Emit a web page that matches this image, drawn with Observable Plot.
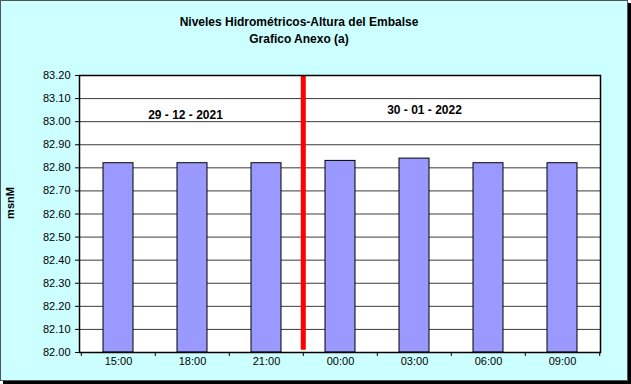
<!DOCTYPE html>
<html>
<head>
<meta charset="utf-8">
<script src="https://cdn.jsdelivr.net/npm/d3@7"></script>
<script src="https://cdn.jsdelivr.net/npm/@observablehq/plot@0.6"></script>
<style>
  html, body { margin: 0; padding: 0; background: #fff; }
  #wrap { position: relative; width: 631px; height: 384px; font-family: "Liberation Sans", Arial, sans-serif; }
  #box { position: absolute; left: 0; top: 0; width: 626px; height: 379px; background: #CCFFFF; border: 1px solid #555; box-shadow: 3px 3px 0 #000; }
  #title { position: absolute; left: 0; top: 14px; width: 598px; text-align: center; font-weight: bold; font-size: 12px; line-height: 17px; color: #000; }
  #ylabel { position: absolute; left: 10px; top: 203px; transform: translate(-50%, -50%) rotate(-90deg); font-weight: bold; font-size: 11px; color: #000; white-space: nowrap; }
  #chart { position: absolute; left: 0; top: 0; }
  #chart svg { background: transparent; }
</style>
</head>
<body>
<div id="wrap">
  <div id="box"></div>
  <div id="title">Niveles Hidrométricos-Altura del Embalse<br>Grafico Anexo (a)</div>
  <div id="chart"></div>
  <div id="ylabel">msnM</div>
</div>
<script>
const times = ["15:00", "18:00", "21:00", "00:00", "03:00", "06:00", "09:00"];
const levels = [82.82, 82.82, 82.82, 82.83, 82.84, 82.82, 82.82];
const yTicks = [82.0, 82.1, 82.2, 82.3, 82.4, 82.5, 82.6, 82.7, 82.8, 82.9, 83.0, 83.1, 83.2];
const dateLabels = ["29 - 12 - 2021", "30 - 01 - 2022"];
const dateAnchors = ["18:00", "03:00"];
const dateLevels = [83.03, 83.05];
const dateShift = [-7, 10];
const splitAt = ["00:00"];

const W = 631, H = 384;
const mL = 79, mR = 31, mT = 75, mB = 32;
const step = (W - mL - mR) / times.length;

const bars = times.map((t, i) => ({time: t, level: levels[i]}));
const dates = dateLabels.map((d, i) => ({label: d, time: dateAnchors[i], level: dateLevels[i]}));

const chart = Plot.plot({
  width: W, height: H,
  marginLeft: mL, marginRight: mR, marginTop: mT, marginBottom: mB,
  style: {background: "transparent", fontFamily: "Liberation Sans, Arial, sans-serif", fontSize: "11px", color: "#000"},
  x: {type: "band", domain: times, paddingInner: 0.6, paddingOuter: 0.3, label: null},
  y: {domain: [82, 83.2], label: null},
  marks: [
    Plot.frame({fill: "#FFFFFF", stroke: null}),
    Plot.ruleY(yTicks, {y: d => d, stroke: "#3a3a3a", strokeWidth: 1}),
    Plot.barY(bars, {x: "time", y1: 82, y2: "level", fill: "#9999FF", stroke: "#000", strokeWidth: 1}),
    Plot.ruleX(splitAt, {x: d => d, dx: -step / 2, y1: 82.01, y2: 83.2, stroke: "#FF0000", strokeWidth: 5}),
    Plot.frame({stroke: "#000", strokeWidth: 1.5}),
    Plot.ruleX(times, {x: d => d, dx: -step / 2, y1: 82, y2: 82, insetBottom: -4, stroke: "#000"}),
    Plot.ruleX(times.slice(-1), {x: d => d, dx: step / 2, y1: 82, y2: 82, insetBottom: -4, stroke: "#000"}),
    Plot.axisX({tickSize: 0, tickPadding: 5, fontSize: 11}),
    Plot.axisY({ticks: yTicks, tickFormat: d => d.toFixed(2), tickSize: 4, tickPadding: 5, fontSize: 11}),
    Plot.text(dates.slice(0, 1), {x: "time", y: "level", text: "label", dx: dateShift[0], fontWeight: "bold", fontSize: 12, fill: "#000"}),
    Plot.text(dates.slice(1, 2), {x: "time", y: "level", text: "label", dx: dateShift[1], fontWeight: "bold", fontSize: 12, fill: "#000"})
  ]
});
document.getElementById("chart").appendChild(chart);
</script>
</body>
</html>
